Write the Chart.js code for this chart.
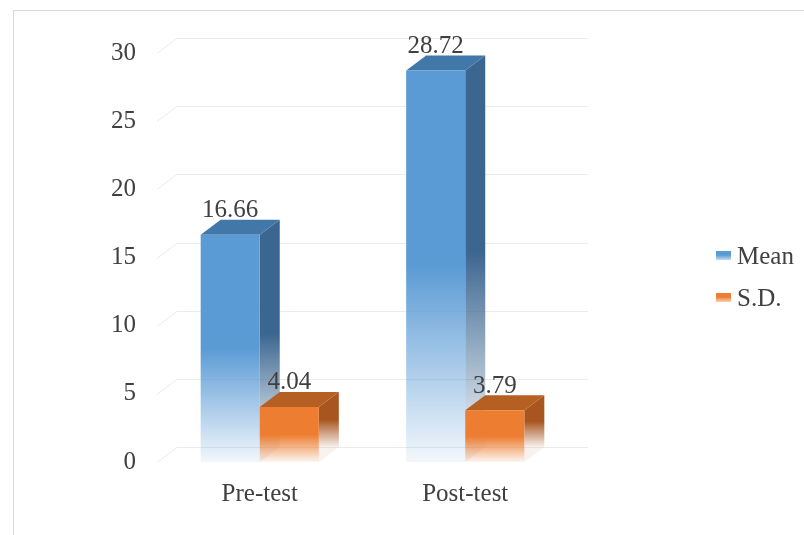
<!DOCTYPE html>
<html>
<head>
<meta charset="utf-8">
<script src="https://cdn.jsdelivr.net/npm/chart.js@4.4.1/dist/chart.umd.min.js"></script>
<style>
  html, body { margin: 0; padding: 0; background: #fff; overflow: hidden; }
  #wrap { position: relative; width: 804px; height: 535px; }
  #frame { position: absolute; left: 13px; top: 10px; width: 900px; height: 700px;
           border-left: 1px solid #d9d9d9; border-top: 1px solid #d9d9d9; }
  #c { display: block; position: absolute; left: 0; top: 0; }
  #legend { position: absolute; left: 716px; top: 238px; font-family: "Liberation Serif", "Times New Roman", serif;
            font-size: 25px; color: #404040; }
  .item { height: 42px; line-height: 36px; white-space: nowrap; }
  .sw { display: inline-block; width: 15px; height: 9px; margin-right: 6px; vertical-align: 4px; }
</style>
</head>
<body>
<div id="wrap">
  <div id="frame"></div>
  <canvas id="c" width="804" height="535"></canvas>
  <div id="legend"></div>
</div>
<script>
// ===== data =====
const kategori = ["Pre-test", "Post-test"];
const nilaiMean = [16.66, 28.72];
const nilaiSD = [4.04, 3.79];
const yTicks = [0, 5, 10, 15, 20, 25, 30];

// ===== warna =====
const warna = [
  { label: "Mean", front: "91,155,213", side: "59,102,144", top: "66,119,170" },
  { label: "S.D.", front: "237,125,49", side: "168,85,32", top: "181,95,34" }
];

const DX = 20, DY = 15;
const FONT = '"Liberation Serif", "Times New Roman", serif';

function gradien(ctx, top, bottom, rgb) {
  const g = ctx.createLinearGradient(0, top, 0, bottom);
  g.addColorStop(0, `rgba(${rgb},1)`);
  g.addColorStop(0.5, `rgba(${rgb},1)`);
  g.addColorStop(1, `rgba(${rgb},0.08)`);
  return g;
}

function frontColor(i) {
  return c => {
    const chart = c.chart;
    if (!chart.chartArea || c.raw == null) return `rgb(${warna[i].front})`;
    const y = chart.scales.y;
    return gradien(chart.ctx, y.getPixelForValue(c.raw), y.getPixelForValue(0), warna[i].front);
  };
}

// ===== 3D plugin =====
const plugin3D = {
  id: "bar3d",
  beforeDatasetsDraw(chart) {
    const ctx = chart.ctx;
    const { left, right } = chart.chartArea;
    const y = chart.scales.y;

    // dinding belakang
    ctx.save();
    ctx.strokeStyle = "#ebebeb";
    ctx.lineWidth = 1;
    yTicks.forEach(t => {
      const py = Math.round(y.getPixelForValue(t)) + 0.5;
      ctx.beginPath();
      ctx.moveTo(left, py);
      ctx.lineTo(left + DX, py - DY);
      ctx.lineTo(right + DX, py - DY);
      ctx.stroke();
    });

    // sisi + atas
    chart.data.datasets.forEach((ds, i) => {
      const meta = chart.getDatasetMeta(i);
      meta.data.forEach(bar => {
        const p = bar.getProps(["x", "y", "base", "width"], true);
        const l = p.x - p.width / 2, r = p.x + p.width / 2;
        ctx.fillStyle = gradien(ctx, p.y - DY, p.base - DY, warna[i].side);
        ctx.beginPath();
        ctx.moveTo(r, p.y);
        ctx.lineTo(r + DX, p.y - DY);
        ctx.lineTo(r + DX, p.base - DY);
        ctx.lineTo(r, p.base);
        ctx.closePath();
        ctx.fill();

        ctx.fillStyle = `rgb(${warna[i].top})`;
        ctx.beginPath();
        ctx.moveTo(l, p.y);
        ctx.lineTo(r, p.y);
        ctx.lineTo(r + DX, p.y - DY);
        ctx.lineTo(l + DX, p.y - DY);
        ctx.closePath();
        ctx.fill();
      });
    });
    ctx.restore();
  },
  afterDatasetsDraw(chart) {
    const ctx = chart.ctx;
    ctx.save();
    ctx.font = `25px ${FONT}`;
    ctx.fillStyle = "#404040";
    ctx.textAlign = "center";
    ctx.textBaseline = "middle";
    chart.data.datasets.forEach((ds, i) => {
      chart.getDatasetMeta(i).data.forEach((bar, j) => {
        const p = bar.getProps(["x", "y"], true);
        ctx.fillText(ds.data[j].toFixed(2), p.x, p.y - 24);
      });
    });
    ctx.restore();
  }
};

// ===== chart =====
const chart = new Chart(document.getElementById("c"), {
  type: "bar",
  data: {
    labels: kategori,
    datasets: [
      { label: warna[0].label, data: nilaiMean, backgroundColor: frontColor(0), borderWidth: 0 },
      { label: warna[1].label, data: nilaiSD, backgroundColor: frontColor(1), borderWidth: 0 }
    ]
  },
  options: {
    responsive: false,
    animation: false,
    events: [],
    layout: { padding: { left: 0, right: 236, top: 53, bottom: 9 } },
    categoryPercentage: 0.575,
    barPercentage: 1,
    plugins: { legend: { display: false }, tooltip: { enabled: false } },
    scales: {
      x: {
        grid: { display: false, drawTicks: false },
        border: { display: false },
        ticks: { color: "#404040", font: { family: FONT, size: 25 }, padding: 17 }
      },
      y: {
        min: 0, max: 30,
        afterFit: s => { s.width = 157; },
        afterBuildTicks: s => { s.ticks = yTicks.map(v => ({ value: v })); },
        grid: { display: false, drawTicks: false },
        border: { display: false },
        ticks: { color: "#404040", font: { family: FONT, size: 25 }, padding: 21 }
      }
    }
  },
  plugins: [plugin3D]
});

// ===== legend =====
document.getElementById("legend").innerHTML = warna.map(w =>
  `<div class="item"><span class="sw" style="background:linear-gradient(rgb(${w.front}) 45%, rgba(${w.front},0.35))"></span>${w.label}</div>`
).join("");
</script>
</body>
</html>
